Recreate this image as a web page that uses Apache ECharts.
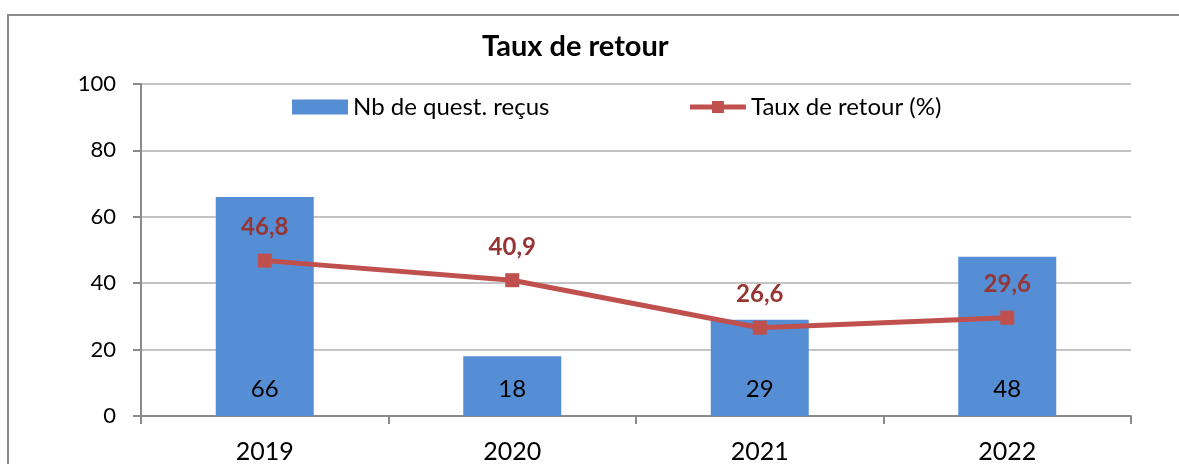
<!DOCTYPE html>
<html>
<head>
<meta charset="utf-8">
<script src="https://cdn.jsdelivr.net/npm/echarts@6/dist/echarts.min.js"></script>
<style>
  html, body { margin: 0; padding: 0; background: #fff; overflow: hidden; }
  #frame { position: absolute; left: 7px; top: 14px; width: 2000px; height: 2000px; border: 2px solid #8a8a8a; }
  #main { position: absolute; left: 0; top: 0; width: 1179px; height: 464px; }
</style>
</head>
<body>
<div id="frame"></div>
<div id="main"></div>
<script>
  var years = ['2019', '2020', '2021', '2022'];
  var questRecus = [66, 18, 29, 48];
  var tauxRetour = [46.8, 40.9, 26.6, 29.6];
  var yTicks = [0, 20, 40, 60, 80, 100];

  var font = 'Lato';
  var chart = echarts.init(document.getElementById('main'));
  chart.setOption({
    backgroundColor: 'transparent',
    animation: false,
    title: {
      text: 'Taux de retour',
      left: 482,
      top: 32,
      padding: 0,
      textStyle: { fontFamily: font, fontSize: 29, fontWeight: 'bold', color: '#000' }
    },
    legend: {
      left: 292,
      top: 95,
      padding: 0,
      itemWidth: 56,
      itemHeight: 15,
      itemGap: 138,
      textStyle: { fontFamily: font, fontSize: 24, color: '#000' },
      data: [
        { name: 'Nb de quest. reçus', icon: 'rect' },
        { name: 'Taux de retour (%)', lineStyle: { width: 5 } }
      ]
    },
    grid: { left: 141, right: 48, top: 84, bottom: 44 },
    xAxis: {
      type: 'category',
      data: years,
      axisLine: { lineStyle: { color: '#8a8a8a', width: 2 } },
      axisTick: { show: true, length: 8, lineStyle: { color: '#8a8a8a', width: 2 } },
      axisLabel: { fontFamily: font, fontSize: 25, color: '#000', margin: 23 }
    },
    yAxis: {
      type: 'value',
      min: yTicks[0],
      max: yTicks[yTicks.length - 1],
      interval: 20,
      axisLine: { show: true, lineStyle: { color: '#8a8a8a', width: 2 } },
      axisTick: { show: true, length: 8, lineStyle: { color: '#8a8a8a', width: 2 } },
      axisLabel: { fontFamily: font, fontSize: 22, color: '#000', margin: 25 },
      splitLine: { lineStyle: { color: '#c4c4c4', width: 2 } }
    },
    series: [
      {
        name: 'Nb de quest. reçus',
        type: 'bar',
        data: questRecus,
        barWidth: 98,
        itemStyle: { color: '#558ED5' },
        label: {
          show: true,
          position: 'insideBottom',
          distance: 15,
          fontFamily: font,
          fontSize: 24,
          color: '#000'
        }
      },
      {
        name: 'Taux de retour (%)',
        type: 'line',
        data: tauxRetour,
        symbol: 'rect',
        symbolSize: 14,
        z: 5,
        lineStyle: { color: '#C0504D', width: 5 },
        itemStyle: { color: '#C0504D' },
        label: {
          show: true,
          position: 'top',
          distance: 14,
          fontFamily: font,
          fontSize: 24,
          fontWeight: 'bold',
          color: '#963634',
          formatter: function (p) { return String(p.value).replace('.', ','); }
        }
      }
    ]
  });
</script>
</body>
</html>
